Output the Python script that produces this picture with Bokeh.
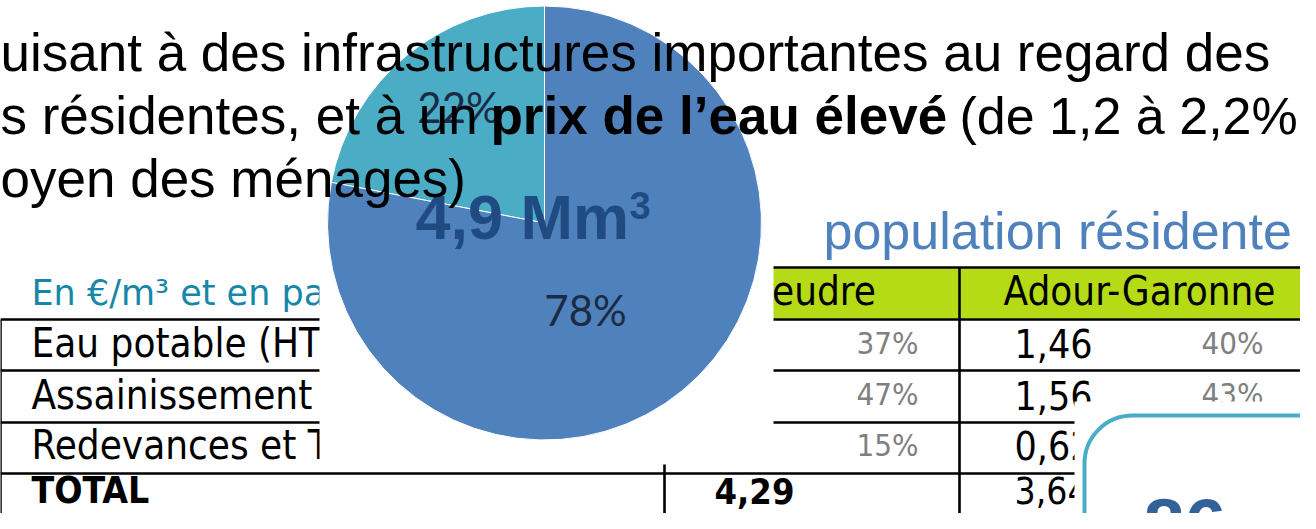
import numpy as np
from bokeh.plotting import figure
from bokeh.models import Range1d, ColumnDataSource
from bokeh.core.properties import value
from bokeh.embed import file_html
from bokeh.resources import INLINE

# ---------------- data ----------------
pie_labels = ["22%", "78%"]
pie_shares = [22, 78]
pie_colors = ["#4BACC6", "#4F81BD"]
pie_total = "4,9 Mm"
pie_total_exp = "3"

body_line1 = "uisant à des infrastructures importantes au regard des"
body_line2_a = "s résidentes, et à un"
body_line2_bold = "prix de l’eau élevé"
body_line2_c = "(de 1,2 à 2,2%"
body_line3 = "oyen des ménages)"
subtitle = "population résidente"

table_caption = "En €/m³ et en part"
table_columns = ["Seudre", "Adour-Garonne"]
row_labels = ["Eau potable (HT)", "Assainissement", "Redevances et Taxes", "TOTAL"]
seudre_shares = ["37%", "47%", "15%"]
seudre_total = "4,29"
adour_values = ["1,46", "1,56", "0,62", "3,64"]
adour_shares = ["40%", "43%"]
box_value = "86"

# ---------------- layout (reference pixel coords, y downwards) ----------------
W, H = 1316, 529
K = 0.37  # empirical baseline correction (fraction of font size)


def Y(v):
    return H - np.asarray(v, dtype=float)


def TY(base, size):
    return Y(np.asarray(base, dtype=float) - K * size)


SANS = value("Liberation Sans")
TAB = value("DejaVu Sans Condensed")

p = figure(width=1300, height=513, x_range=Range1d(8, 1308), y_range=Range1d(8, 521),
           output_backend="svg", toolbar_location=None, min_border=0,
           x_axis_type=None, y_axis_type=None)
p.outline_line_color = None
p.grid.visible = False
p.background_fill_color = "white"

# table geometry
head_top, head_bot = 275, 326
row_tops = [327, 378, 430, 481]
col_x = [8, 672, 967]

# header fill
p.quad(left=[672], right=[1340], top=Y([head_top]), bottom=Y([head_bot]),
       fill_color="#B5DA16", line_color=None)

# table lines
hx0 = [672] + [8] * len(row_tops)
hy = [head_top] + row_tops
p.segment(x0=hx0, y0=Y(hy), x1=[1340] * len(hy), y1=Y(hy), line_color="black", line_width=2.6)
vy0 = [row_tops[0], head_top, head_top]
p.segment(x0=col_x, y0=Y(vy0), x1=col_x, y1=Y([560] * 3), line_color="black", line_width=2.6)

# table texts
p.text(x=[39], y=TY([313], 35), text=[table_caption], text_font=value("DejaVu Sans"),
       text_font_size="35px", text_color="#1787A9", text_baseline="alphabetic")
p.text(x=[820, 1147], y=TY([313, 313], 40), text=table_columns, text_font=TAB,
       text_font_size="40px", text_color="black", text_align="center", text_baseline="alphabetic")
base = [365, 417, 467]
p.text(x=[39] * 3, y=TY(base, 40), text=row_labels[:3], text_font=TAB,
       text_font_size="40px", text_color="black", text_baseline="alphabetic")
tot_base = 512
p.text(x=[39], y=TY([tot_base], 37), text=row_labels[3:], text_font=TAB, text_font_style="bold",
       text_font_size="37px", text_color="black", text_baseline="alphabetic")
pct_base = [362, 413, 464]
p.text(x=[926] * 3, y=TY(pct_base, 31), text=seudre_shares, text_font=TAB,
       text_font_size="31px", text_color="#808080", text_align="right", text_baseline="alphabetic")
p.text(x=[722], y=TY([tot_base], 36), text=[seudre_total], text_font=TAB, text_font_style="bold",
       text_font_size="36px", text_color="black", text_baseline="alphabetic")
p.text(x=[1022] * 3, y=TY(base, 39), text=adour_values[:3], text_font=TAB,
       text_font_size="39px", text_color="black", text_baseline="alphabetic")
p.text(x=[1022], y=TY([tot_base], 37), text=adour_values[3:], text_font=TAB,
       text_font_size="37px", text_color="black", text_baseline="alphabetic")
p.text(x=[1271] * 2, y=TY(pct_base[:2], 31), text=adour_shares, text_font=TAB,
       text_font_size="31px", text_color="#808080", text_align="right", text_baseline="alphabetic")

# pie chart area (white) covering the table
p.quad(left=[327], right=[781], top=Y([0]), bottom=Y([472]), fill_color="white", line_color=None)

# pie
cx, cy, r = 552, 230.5, 217
shares = np.array(pie_shares, dtype=float) / sum(pie_shares)
cum = np.concatenate([[0.0], np.cumsum(shares)])
start = np.pi / 2 + 2 * np.pi * cum[:-1]
end = np.pi / 2 + 2 * np.pi * cum[1:]
src = ColumnDataSource(dict(start=start, end=end, color=pie_colors))
p.wedge(x=cx, y=float(Y(cy)), radius=r, radius_units="screen", start_angle="start", end_angle="end",
        fill_color="color", line_color="white", line_width=1, source=src, direction="anticlock")

label_off = [(-86, 130 - 230.5), (41, 333 - 230.5)]
lx = [cx + o[0] for o in label_off]
lb = [cy + o[1] for o in label_off]
p.text(x=lx, y=TY(lb, 42), text=pie_labels, text_font=value("Lato"), text_font_size="42px",
       text_color="#1B2B44", text_align="center", text_baseline="alphabetic")

p.text(x=[423], y=TY([248], 63), text=[pie_total], text_font=SANS, text_font_style="bold",
       text_font_size="63px", text_color="#204B82", text_baseline="alphabetic")
p.text(x=[637], y=TY([227], 38), text=[pie_total_exp], text_font=SANS, text_font_style="bold",
       text_font_size="38px", text_color="#204B82", text_baseline="alphabetic")

# body text
p.text(x=[8], y=TY([80], 53), text=[body_line1], text_font=SANS, text_font_size="53px",
       text_color="black", text_baseline="alphabetic")
p.text(x=[8], y=TY([143], 53), text=[body_line2_a], text_font=SANS, text_font_size="53px",
       text_color="black", text_baseline="alphabetic")
p.text(x=[498], y=TY([143], 53), text=[body_line2_bold], text_font=SANS, text_font_style="bold",
       text_font_size="53px", text_color="black", text_baseline="alphabetic")
p.text(x=[967], y=TY([143], 52), text=[body_line2_c], text_font=SANS, text_font_size="52px",
       text_color="black", text_baseline="alphabetic")
p.text(x=[8], y=TY([206], 53), text=[body_line3], text_font=SANS, text_font_size="53px",
       text_color="black", text_baseline="alphabetic")
p.text(x=[831], y=TY([258], 52), text=[subtitle], text_font=SANS, text_font_size="52px",
       text_color="#4F81BD", text_baseline="alphabetic")

# bottom-right box
p.quad(left=[1082], right=[1400], top=Y([409]), bottom=Y([600]), fill_color="white", line_color=None)
p.quad(left=[1092], right=[1400], top=Y([423]), bottom=Y([600]), fill_color="white",
       line_color="#4BACC6", line_width=4, border_radius=48)
p.text(x=[1151], y=TY([560], 74), text=[box_value], text_font=SANS, text_font_style="bold",
       text_font_size="74px", text_color="#33629A", text_baseline="alphabetic")

open("out.html", "w").write(file_html(p, INLINE))
